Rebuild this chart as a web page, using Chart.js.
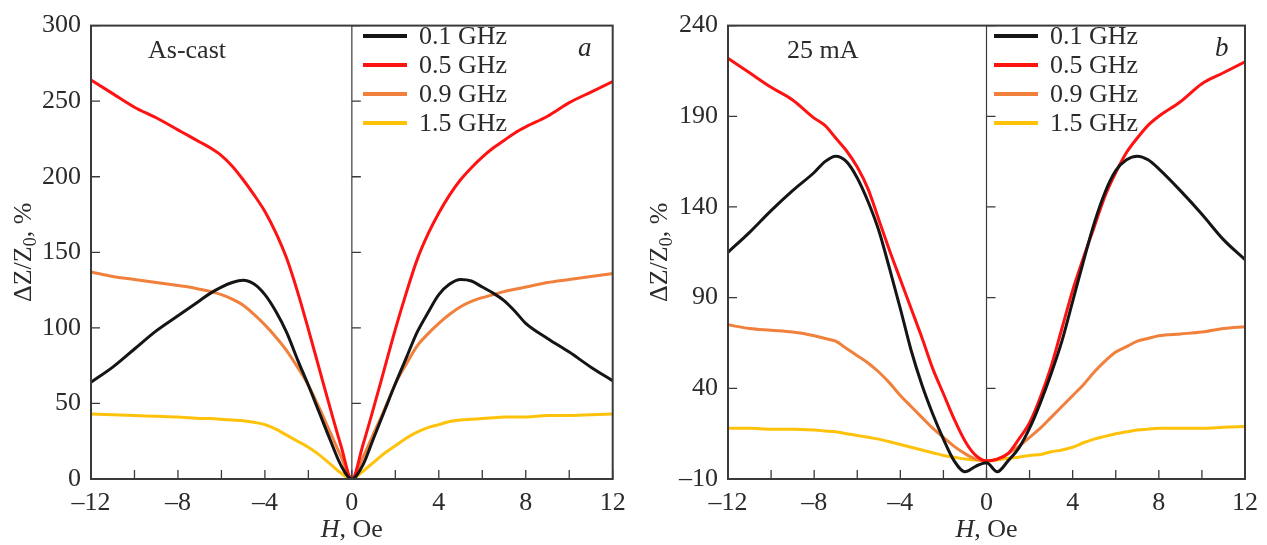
<!DOCTYPE html>
<html>
<head>
<meta charset="utf-8">
<script src="https://cdn.jsdelivr.net/npm/chart.js@4.4.0/dist/chart.umd.min.js"></script>
<style>
  html, body { margin: 0; padding: 0; background: #fff; }
  #wrap { position: relative; width: 1267px; height: 545px; }
  .panel { position: absolute; top: 0; height: 545px; }
</style>
</head>
<body>
<div id="wrap">
  <div class="panel" style="left:0;width:640px"><canvas id="chartA" width="640" height="545"></canvas></div>
  <div class="panel" style="left:640px;width:627px"><canvas id="chartB" width="627" height="545"></canvas></div>
</div>
<script>
// field sweep, Oe
const fieldH = [-12, -11, -10, -9, -8, -7.5, -7, -6.5, -6, -5.5, -5, -4.5, -4, -3.5, -3, -2.5, -2, -1.5, -1, -0.5,
  0, 0.5, 1, 1.5, 2, 2.5, 3, 3.5, 4, 4.5, 5, 5.5, 6, 6.5, 7, 7.5, 8, 9, 10, 11, 12];

const freqLabels = ['0.1 GHz', '0.5 GHz', '0.9 GHz', '1.5 GHz'];
const freqColors = ['#151515', '#ff1212', '#f0803c', '#ffc20a'];

// (a) as-cast wire, dZ/Z0 in %
const castBlack = [64, 74, 86, 98, 108, 113, 118, 123, 127, 130, 131.5, 129, 122, 111, 97, 79, 62, 44, 26, 9,
  0, 9, 27, 45, 63, 80, 97, 110, 122, 129, 132, 131, 127, 123, 118, 111, 103, 93, 84, 74, 65];
const castRed = [264, 255, 246, 239, 231, 227, 223, 219, 214, 207, 198, 188, 177, 163, 146, 124, 99, 73, 47, 22,
  0, 22, 47, 73, 99, 123, 145, 162, 176, 188, 198, 206, 213, 219, 224, 229, 233, 240, 249, 256, 263];
const castOrange = [137, 134, 132, 130, 128, 127, 125.5, 124, 122, 119, 115, 109, 102, 94, 85, 74, 62, 47, 31, 15,
  0, 14, 30, 46, 63, 76, 88, 96, 103, 109, 114, 117.5, 120, 122, 124, 125.5, 127, 130, 132, 134, 136];
const castYellow = [43, 42.5, 42, 41.5, 41, 40.5, 40, 40, 39.5, 39, 38.5, 37.5, 36, 33, 29, 25, 21, 16, 10, 4,
  0, 5, 11, 17, 22, 27, 31, 34, 36, 38, 39, 39.5, 40, 40.5, 41, 41, 41, 42, 42, 42.5, 43];

// (b) annealed at 25 mA
const curBlack = [115, 126, 138, 149, 159, 165, 168, 165, 156, 143, 127, 106, 84, 61, 42, 26, 12, 0, -6, -3,
  -1, -6, 0, 7, 18, 32, 48, 66, 88, 110, 131, 148, 160, 166, 168, 166, 161, 149, 136, 122, 111];
const curRed = [222, 214, 206, 199, 189, 185, 178, 171, 162, 150, 133, 116, 100, 84, 68, 51, 37, 23, 11, 3,
  0, 1, 4, 12, 21, 35, 52, 73, 94, 112, 129, 146, 159, 170, 178, 185, 190, 198, 208, 214, 220];
const curOrange = [75, 73, 72, 71, 69, 67.5, 66, 62, 58, 54, 49, 43, 36, 30, 24, 18, 13, 8, 4, 1,
  0, 1, 4, 8, 13, 18, 24, 30, 36, 42, 49, 55, 60, 63, 66, 67.5, 69, 70, 71, 73, 74];
const curYellow = [18, 18, 17.5, 17.5, 17, 16.5, 16, 15, 14, 13, 12, 10.5, 9, 7.5, 6, 4.5, 3, 2, 1, 0.5,
  0, 0.5, 1.5, 2, 3, 3.5, 5, 6, 7.5, 10, 12, 13.5, 15, 16, 17, 17.5, 18, 18, 18, 18.5, 19];

const ticksH = [-12, -10, -8, -6, -4, -2, 0, 2, 4, 6, 8, 10, 12];
const ticksA = [0, 50, 100, 150, 200, 250, 300];
const ticksB = [-10, 40, 90, 140, 190, 240];

const serif = '"Liberation Serif", "Times New Roman", serif';
const ink = '#2b2b2b';
const fmt = v => (v < 0 ? '\u2013' + Math.abs(v) : String(v));

// frame, inward ticks, zero line, legend and captions
const panelDecor = {
  id: 'panelDecor',
  beforeDatasetsDraw(chart) {
    const { ctx, chartArea: a, scales: { x } } = chart;
    const x0 = x.getPixelForValue(0);
    ctx.save();
    ctx.strokeStyle = '#3a3a3a';
    ctx.lineWidth = 1.2;
    ctx.beginPath();
    ctx.moveTo(x0, a.top);
    ctx.lineTo(x0, a.bottom);
    ctx.stroke();
    ctx.restore();
  },
  afterDatasetsDraw(chart, args, o) {
    const { ctx, chartArea: a, scales: { x, y } } = chart;
    const x0 = x.getPixelForValue(0);
    ctx.save();
    ctx.strokeStyle = '#3a3a3a';
    ctx.lineWidth = 1.3;
    ctx.beginPath();
    ticksH.forEach(v => {
      const px = x.getPixelForValue(v);
      ctx.moveTo(px, a.bottom);
      ctx.lineTo(px, a.bottom - 9);
    });
    o.yTicks.forEach(v => {
      const py = y.getPixelForValue(v);
      ctx.moveTo(a.left, py);
      ctx.lineTo(a.left + 9, py);
      ctx.moveTo(x0, py);
      ctx.lineTo(x0 + 9, py);
    });
    ctx.stroke();
    ctx.lineWidth = 2;
    ctx.strokeRect(a.left, a.top, a.right - a.left, a.bottom - a.top);

    // legend
    ctx.font = '26px ' + serif;
    ctx.textBaseline = 'middle';
    ctx.textAlign = 'left';
    chart.data.datasets.forEach((ds, i) => {
      const ly = 36 + i * 29;
      ctx.strokeStyle = ds.borderColor;
      ctx.lineWidth = 4;
      ctx.beginPath();
      ctx.moveTo(o.legendX, ly);
      ctx.lineTo(o.legendX + 44, ly);
      ctx.stroke();
      ctx.fillStyle = ink;
      ctx.fillText(ds.label, o.legendX + 56, ly + 1);
    });

    // captions
    ctx.textBaseline = 'alphabetic';
    ctx.fillText(o.note, o.noteX, 58);
    ctx.font = 'italic 27px ' + serif;
    ctx.fillText(o.tag, o.tagX, 56);

    // x title: H, Oe
    ctx.font = 'italic 26px ' + serif;
    const hW = ctx.measureText('H').width;
    ctx.font = '26px ' + serif;
    const restW = ctx.measureText(', Oe').width;
    const tx = x0 - (hW + restW) / 2;
    ctx.font = 'italic 26px ' + serif;
    ctx.fillText('H', tx, 537);
    ctx.font = '26px ' + serif;
    ctx.fillText(', Oe', tx + hW, 537);

    // y title: dZ/Z0, %
    ctx.translate(o.yTitleX, (a.top + a.bottom) / 2);
    ctx.rotate(-Math.PI / 2);
    ctx.textBaseline = 'middle';
    const p1 = '\u0394Z/Z', p3 = ', %';
    ctx.font = '26px ' + serif;
    const w1 = ctx.measureText(p1).width, w3 = ctx.measureText(p3).width;
    ctx.font = '18px ' + serif;
    const w2 = ctx.measureText('0').width;
    const sx = -(w1 + w2 + w3) / 2;
    ctx.font = '26px ' + serif;
    ctx.fillText(p1, sx, 0);
    ctx.font = '18px ' + serif;
    ctx.fillText('0', sx + w1, 7);
    ctx.font = '26px ' + serif;
    ctx.fillText(p3, sx + w1 + w2, 0);
    ctx.restore();
  }
};

function makePanel(id, series, yMin, yMax, yTicks, yWidth, padRight, decor) {
  return new Chart(document.getElementById(id), {
    type: 'line',
    data: {
      datasets: series.map((vals, i) => ({
        label: freqLabels[i],
        data: fieldH.map((h, k) => ({ x: h, y: vals[k] })),
        borderColor: freqColors[i],
        borderWidth: 3,
        pointRadius: 0,
        fill: false,
        cubicInterpolationMode: 'monotone'
      }))
    },
    options: {
      responsive: false,
      animation: false,
      devicePixelRatio: 1,
      layout: { padding: { left: 0, top: 19.5, right: padRight, bottom: 0 } },
      plugins: { legend: { display: false }, tooltip: { enabled: false }, panelDecor: decor },
      scales: {
        x: {
          type: 'linear', min: -12, max: 12,
          afterBuildTicks: s => { s.ticks = ticksH.map(v => ({ value: v })); },
          afterFit: s => { s.height = 66; },
          grid: { display: false, drawTicks: false },
          border: { display: false },
          ticks: {
            autoSkip: false, maxRotation: 0, padding: 9, color: ink,
            font: { family: serif, size: 26 },
            callback: v => (v % 4 === 0 ? fmt(v) : '')
          }
        },
        y: {
          type: 'linear', min: yMin, max: yMax,
          afterBuildTicks: s => { s.ticks = yTicks.map(v => ({ value: v })); },
          afterFit: s => { s.width = yWidth; },
          grid: { display: false, drawTicks: false },
          border: { display: false },
          ticks: {
            padding: 10, color: ink,
            font: { family: serif, size: 26 },
            callback: v => fmt(v)
          }
        }
      }
    },
    plugins: [panelDecor]
  });
}

makePanel('chartA', [castBlack, castRed, castOrange, castYellow], 0, 300, ticksA, 91, 27.3,
  { yTicks: ticksA, legendX: 363, note: 'As-cast', noteX: 148, tag: 'a', tagX: 578, yTitleX: 24 });
makePanel('chartB', [curBlack, curRed, curOrange, curYellow], -10, 240, ticksB, 88, 17.7,
  { yTicks: ticksB, legendX: 354, note: '25 mA', noteX: 147, tag: 'b', tagX: 575, yTitleX: 20 });
</script>
</body>
</html>
